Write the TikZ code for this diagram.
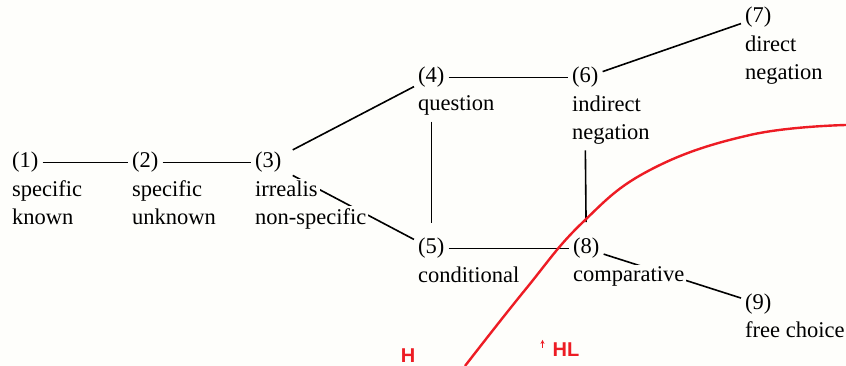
\documentclass[tikz,border=0pt]{standalone}
\usepackage{fontspec}
\setmainfont{Liberation Serif}
\newfontfamily\labelfont{Liberation Sans}
\usepackage{xcolor}
\usepackage{tikz}
\usetikzlibrary{arrows.meta,backgrounds,positioning}
\definecolor{paper}{RGB}{254,254,251}
\definecolor{hlred}{RGB}{237,28,36}
\tikzset{
  num/.style={anchor=base west, inner sep=4pt,
    font=\fontsize{22.5}{28}\selectfont},
  desc/.style={inner sep=2pt, align=left, fill=paper,
    font=\fontsize{22.5}{28}\selectfont},
  link/.style={line width=1.6pt},
  hlline/.style={draw=hlred, line width=2.4pt},
  hllabel/.style={text=hlred, inner sep=0pt,
    font=\labelfont\bfseries\fontsize{20}{20}\selectfont},
}

\begin{document}
\begin{tikzpicture}[x=1pt, y=-1pt]
  \useasboundingbox (0,0) rectangle (846,366);

  \node[num] (n1) at (8,168) {(1)};
  \node[desc, below right=1.5pt and 2pt of n1.south west] (d1) {specific\\known};
  \node[num] (n2) at (128,168) {(2)};
  \node[desc, below right=1.5pt and 2pt of n2.south west] (d2) {specific\\unknown};
  \node[num] (n3) at (251,168) {(3)};
  \node[desc, below right=1.5pt and 2pt of n3.south west] (d3a) {irrealis};
  \node[desc, anchor=base west] (d3b) at ([yshift=-28pt]d3a.base west) {non-specific};

  \node[num] (n4) at (414,83) {(4)};
  \node[desc, below right=1.5pt and 2pt of n4.south west] (d4) {question};
  \node[num] (n5) at (414,254) {(5)};
  \node[desc, below right=1.5pt and 2pt of n5.south west] (d5) {conditional};

  \node[num] (n6) at (568,83) {(6)};
  \node[desc, below right=1.5pt and 2pt of n6.south west] (d6) {indirect\\negation};
  \node[num] (n8) at (569,254) {(8)};
  \node[desc, below right=1.5pt and 2pt of n8.south west] (d8) {comparative};

  \node[num] (n7) at (741,23) {(7)};
  \node[desc, below right=1.5pt and 2pt of n7.south west] (d7) {direct\\negation};
  \node[num] (n9) at (741,309) {(9)};
  \node[desc, below right=1.5pt and 2pt of n9.south west] (d9) {free choice};

  % links go under the labels
  \begin{pgfonlayer}{background}
    \fill[paper] (0,0) rectangle (846,366);
    \draw[link] (n1) -- (n2);
    \draw[link] (n2) -- (n3);
    \draw[link, shorten <=8pt] (n3) -- (n4);
    \draw[link, shorten <=8pt] (n3) -- (n5);
    \draw[link] (n4) -- (n6);
    \draw[link] (n5) -- (n8);
    \draw[link, shorten <=4pt, shorten >=11pt] (d4.south -| n4) -- (n5);
    \draw[link, shorten <=4pt, shorten >=12pt] (d6.south -| n6) -- (n8);
    \draw[link] (n6) -- (n7);
    \draw[link] (n8) -- (n9);
  \end{pgfonlayer}

  \draw[hlline] plot[smooth, tension=0.7] coordinates
    {(465,366) (525,290) (582,223) (650,170) (750,135) (846,125)};

  \node[hllabel] (h) at (408,356) {H};
  \node[hllabel] (hl) at (566,350) {HL};
  \coordinate (tickfoot) at ([xshift=-10pt,yshift=-5pt]hl.north west);
  \coordinate (ticktip) at ([xshift=-10pt,yshift=3pt]hl.north west);
  \draw[hlline, line width=1pt, -{Stealth[length=4pt,width=4pt]}]
    (tickfoot) -- (ticktip);
\end{tikzpicture}
\end{document}
